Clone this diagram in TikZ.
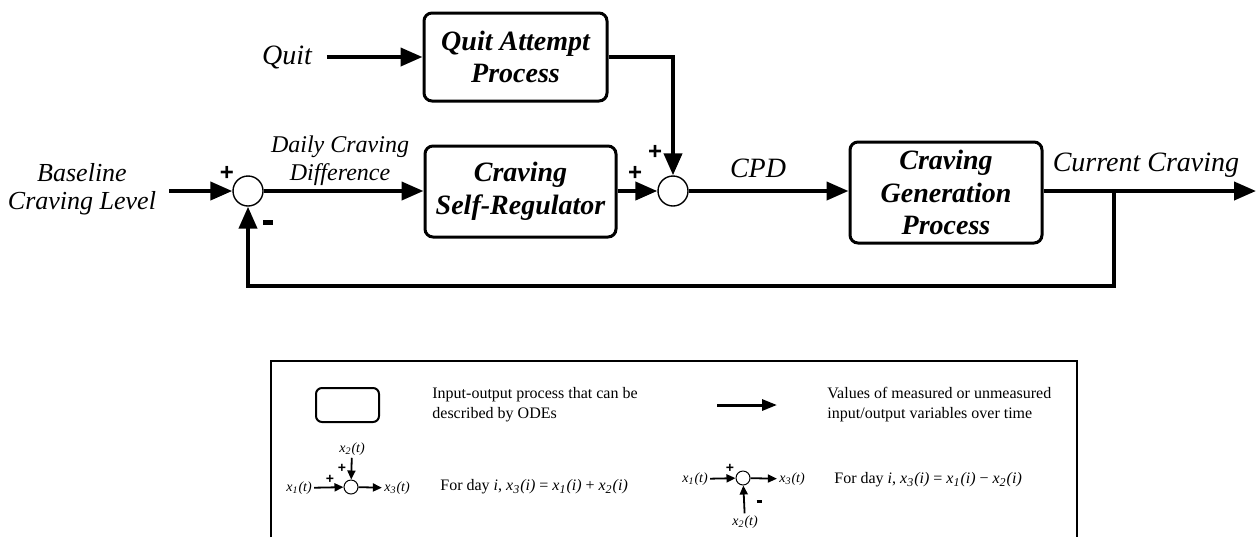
\documentclass[tikz,border=0pt]{standalone}
\usepackage{fontspec}
\setmainfont{Liberation Serif}
\newfontfamily\signfont{Liberation Sans}
\usepackage{tikz}
\usetikzlibrary{arrows.meta,positioning}

\newcommand{\xvar}[2]{\textit{x\textsubscript{#1}(#2)}}

\begin{document}
\begin{tikzpicture}[
    x=0.5pt, y=-0.5pt,
    block/.style={draw, line width=1.5pt, rounded corners=4pt, align=center,
      font=\fontsize{14}{16.25}\selectfont\bfseries\itshape},
    lbl/.style={align=center, font=\fontsize{13}{14}\selectfont\itshape},
    junction/.style={circle, draw, line width=0.7pt, minimum size=15pt, inner sep=0pt},
    arrow/.style={-{Triangle[length=11pt,width=9pt]}, line width=2pt},
    sign/.style={inner sep=0pt, font=\signfont\bfseries\fontsize{12}{12}\selectfont},
    minus/.style={inner sep=0pt},
    legtext/.style={anchor=west, align=left, inner sep=0pt,
      font=\fontsize{8}{10}\selectfont},
    smallsum/.style={circle, draw, line width=0.5pt, minimum size=7pt, inner sep=0pt},
    smallvar/.style={inner sep=1pt, font=\fontsize{7}{8}\selectfont},
    smallarrow/.style={-{Triangle[length=4.5pt,width=4pt]}, line width=0.9pt},
    smallsign/.style={inner sep=0pt, font=\signfont\bfseries\fontsize{7}{7}\selectfont}
  ]
    \useasboundingbox (0,0) rectangle (1256,537);

    % main loop
    \node[lbl, font=\fontsize{14}{16}\selectfont\itshape] (quit) at (287,57) {Quit};
    \node[block, minimum width=91.5pt, minimum height=44pt] (qap) at (515.5,57) {Quit Attempt\\Process};
    \node[lbl] (base) at (82,189) {Baseline\\Craving Level};
    \node[junction] (sum1) at (248,191) {};
    \node[block, minimum width=95.5pt, minimum height=45.5pt] (csr) at (520.5,191.5) {Craving\\Self-Regulator};
    \node[junction] (sum2) at (673,191) {};
    \node[block, minimum width=96pt, minimum height=50.5pt] (cgp) at (946,192.5) {Craving\\Generation\\Process};
    \coordinate (out) at (1256,191);
    \coordinate (branch) at (1114,191);
    \coordinate (fbk) at (1114,286);

    \node[lbl, font=\fontsize{12}{14}\selectfont\itshape] (dcd) at (340,161) {Daily Craving\\Difference};
    \node[lbl, font=\fontsize{14}{16}\selectfont\itshape] (cpd) at (758,168) {CPD};
    \node[lbl, font=\fontsize{14}{16}\selectfont\itshape] (cur) at (1146,165) {Current Craving};

    \node[sign] (p1) at (227,173) {+};
    \node[minus] (m1) at (268,222) {\rule{5pt}{2.5pt}};
    \node[sign] (p2) at (635,173) {+};
    \node[sign] (p3) at (655,152) {+};

    \draw[arrow, shorten <=4pt] (quit) -- (qap);
    \draw[arrow, shorten <=3pt] (base.east |- sum1) -- (sum1);
    \draw[arrow] (sum1) -- (sum1 -| csr.west);
    \draw[arrow] (csr.east |- sum2) -- (sum2);
    \draw[arrow] (qap.east) -| (sum2.north);
    \draw[arrow] (sum2) -- (sum2 -| cgp.west);
    \draw[arrow] (cgp.east |- out) -- (out);
    \draw[arrow] (branch) -- (fbk) -| (sum1.south);

    % legend
    \draw[line width=0.8pt] (271,537) |- (1077,361) -- (1077,537);

    \node[draw, line width=1pt, rounded corners=3pt, minimum width=31.5pt, minimum height=17pt] (legbox) at (347.5,405) {};
    \node[legtext] (legboxtext) at (432,405) {Input-output process that can be\\described by ODEs};
    \coordinate (legfrom) at (717,405);
    \coordinate (legto) at (777,405);
    \draw[-{Triangle[length=7.5pt,width=5.5pt]}, line width=1.5pt] (legfrom) -- (legto);
    \node[legtext] (legarrowtext) at (827,405) {Values of measured or unmeasured\\input/output variables over time};

    \node[smallsum] (ls1) at (351,487) {};
    \node[smallvar] (la1) at (299,488) {\xvar{1}{t}};
    \node[smallvar] (lb1) at (352,449) {\xvar{2}{t}};
    \node[smallvar] (lc1) at (397,488) {\xvar{3}{t}};
    \node[smallsign] at (330,479) {+};
    \node[smallsign] at (342,468) {+};
    \draw[smallarrow] (la1) -- (ls1);
    \draw[smallarrow] (lb1) -- (ls1);
    \draw[smallarrow] (ls1) -- (lc1);
    \node[legtext] (legsum) at (440,487) {For day \textit{i}, \xvar{3}{i} = \xvar{1}{i} + \xvar{2}{i}};

    \node[smallsum] (ls2) at (743,478) {};
    \node[smallvar] (la2) at (695,479) {\xvar{1}{t}};
    \node[smallvar] (lb2) at (745,522) {\xvar{2}{t}};
    \node[smallvar] (lc2) at (792,479) {\xvar{3}{t}};
    \node[smallsign] at (730,468) {+};
    \node[minus] at (759,501) {\rule{2.5pt}{1.5pt}};
    \draw[smallarrow] (la2) -- (ls2);
    \draw[smallarrow] (lb2) -- (ls2);
    \draw[smallarrow] (ls2) -- (lc2);
    \node[legtext] (legdiff) at (834,480) {For day \textit{i}, \xvar{3}{i} = \xvar{1}{i} − \xvar{2}{i}};
  \end{tikzpicture}
\end{document}
